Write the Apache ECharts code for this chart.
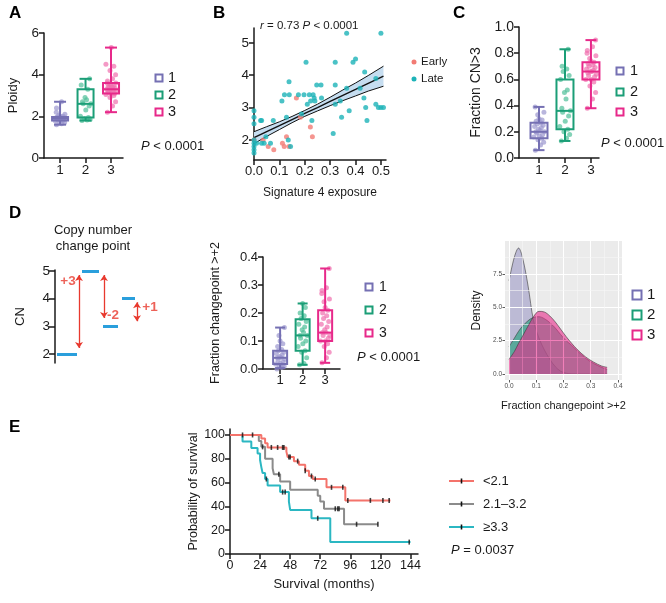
<!DOCTYPE html>
<html><head><meta charset="utf-8">
<script src="https://cdn.jsdelivr.net/npm/echarts@6/dist/echarts.min.js"></script>
<style>html,body{margin:0;padding:0;background:#fff}#c{width:666px;height:603px}</style>
</head><body><div id="c"></div>
<script>
// ---------------- DATA ----------------
const groups = [1, 2, 3];
const groupLabels = ['1', '2', '3'];
const jitter = [-0.14, 0.06, 0.18, -0.04, 0.11, -0.2, 0.01, 0.14, -0.09, 0.21, -0.12, 0.04, -0.02, 0.09, -0.17, 0.16, -0.07, 0.07, -0.11, 0.12, 0.0, -0.05, 0.19, -0.15];

// A: ploidy  [min, q1, median, q3, max]
const ploidyBox = [[1.6, 1.8, 1.9, 1.97, 2.7], [1.8, 1.95, 2.6, 3.3, 3.8], [2.2, 3.1, 3.3, 3.6, 5.3]];
const ploidyPts1 = [1.6, 1.65, 1.7, 1.75, 1.8, 1.8, 1.82, 1.85, 1.85, 1.87, 1.88, 1.9, 1.9, 1.9, 1.92, 1.93, 1.95, 1.95, 1.97, 2.0, 2.0, 2.05, 2.1, 2.2, 2.4, 2.7];
const ploidyPts2 = [1.8, 1.82, 1.85, 1.9, 1.95, 2.0, 2.3, 2.5, 2.6, 2.6, 2.7, 2.8, 2.9, 3.3, 3.5, 3.8];
const ploidyPts3 = [2.2, 2.5, 2.7, 2.9, 3.0, 3.05, 3.1, 3.1, 3.15, 3.2, 3.2, 3.25, 3.3, 3.3, 3.3, 3.35, 3.4, 3.4, 3.45, 3.5, 3.5, 3.55, 3.6, 3.6, 3.7, 3.8, 4.0, 4.2, 4.4, 4.5, 5.3];
const ploidyTicks = [0, 2, 4, 6];

// B: signature 4 exposure vs ploidy
const lateX = [0, 0, 0, 0, 0, 0, 0, 0, 0.01, 0.026, 0.03, 0.03, 0.04, 0.047, 0.065, 0.076, 0.11, 0.12, 0.128, 0.135, 0.138, 0.139, 0.144, 0.175, 0.187, 0.197, 0.205, 0.21, 0.218, 0.223, 0.228, 0.233, 0.237, 0.24, 0.247, 0.264, 0.266, 0.312, 0.32, 0.32, 0.32, 0.34, 0.345, 0.365, 0.365, 0.375, 0.39, 0.4, 0.418, 0.433, 0.436, 0.44, 0.445, 0.48, 0.48, 0.49, 0.5, 0.51, 0.5];
const lateY = [2.9, 2.7, 2.5, 2.0, 1.9, 1.8, 1.7, 1.6, 1.9, 2.6, 2.6, 1.9, 1.9, 2.1, 1.9, 2.6, 3.2, 3.4, 2.7, 2.0, 3.8, 3.4, 1.8, 3.4, 2.8, 3.4, 4.4, 3.1, 3.4, 3.2, 2.6, 3.4, 3.3, 3.2, 3.7, 3.7, 3.3, 2.2, 3.7, 4.4, 3.1, 3.2, 2.7, 5.3, 3.6, 2.9, 4.4, 4.5, 3.6, 3.3, 4.1, 3.0, 2.6, 3.9, 3.1, 3.0, 3.0, 3.0, 5.3];
const earlyX = [0, 0.036, 0.056, 0.078, 0.112, 0.119, 0.128, 0.138, 0.167, 0.183, 0.222, 0.23];
const earlyY = [2.0, 2.0, 1.8, 1.7, 1.9, 1.8, 2.1, 1.8, 3.3, 2.7, 2.4, 2.1];
const regX = [0, 0.05, 0.1, 0.15, 0.2, 0.25, 0.3, 0.35, 0.4, 0.45, 0.51];
const regFit = [2.07, 2.26, 2.44, 2.63, 2.82, 3.0, 3.19, 3.38, 3.56, 3.75, 3.97];
const regHi = [2.255, 2.41, 2.56, 2.727, 2.911, 3.104, 3.32, 3.545, 3.76, 3.99, 4.28];
const regLo = [1.885, 2.11, 2.32, 2.533, 2.729, 2.896, 3.06, 3.215, 3.36, 3.51, 3.66];
const sigXTicks = [0, 0.1, 0.2, 0.3, 0.4, 0.5];
const sigYTicks = [2, 3, 4, 5];

// C: fraction CN>3
const cnBox = [[0.06, 0.15, 0.20, 0.27, 0.39], [0.13, 0.22, 0.36, 0.60, 0.83], [0.38, 0.60, 0.66, 0.73, 0.90]];
const cnPts1 = [0.06, 0.1, 0.12, 0.14, 0.15, 0.16, 0.17, 0.18, 0.19, 0.2, 0.2, 0.21, 0.22, 0.23, 0.24, 0.25, 0.26, 0.27, 0.28, 0.29, 0.3, 0.33, 0.35, 0.39];
const cnPts2 = [0.13, 0.15, 0.18, 0.2, 0.22, 0.24, 0.28, 0.32, 0.35, 0.36, 0.38, 0.45, 0.5, 0.52, 0.6, 0.63, 0.66, 0.68, 0.7, 0.83];
const cnPts3 = [0.38, 0.45, 0.5, 0.55, 0.58, 0.6, 0.6, 0.62, 0.63, 0.64, 0.65, 0.66, 0.66, 0.67, 0.68, 0.69, 0.7, 0.71, 0.72, 0.73, 0.74, 0.76, 0.78, 0.8, 0.82, 0.85, 0.9];
const cnTicks = [0, 0.2, 0.4, 0.6, 0.8, 1.0];

// D left: copy number change point schematic
const segStart = [2, 27, 48, 67];
const segEnd = [22, 44, 63, 80];
const segCN = [2, 5, 3, 4];
const arrowX = [24, 49, 82];
const arrowFrom = [2.22, 4.85, 3.18];
const arrowTo = [4.85, 3.3, 3.87];
const arrowLabelX = [13, 58, 95];
const arrowLabelY = [4.64, 3.4, 3.7];
const arrowLabels = ['+3', '-2', '+1'];
const cnAxisTicks = [2, 3, 4, 5];

// D middle: fraction changepoint >+2
const cpBox = [[0.003, 0.018, 0.04, 0.065, 0.148], [0.015, 0.065, 0.12, 0.178, 0.234], [0.022, 0.10, 0.13, 0.21, 0.359]];
const cpPts1 = [0.0, 0.005, 0.01, 0.012, 0.015, 0.018, 0.02, 0.025, 0.03, 0.035, 0.04, 0.04, 0.045, 0.05, 0.055, 0.06, 0.065, 0.07, 0.08, 0.09, 0.1, 0.12, 0.148];
const cpPts2 = [0.015, 0.02, 0.04, 0.06, 0.065, 0.08, 0.09, 0.1, 0.11, 0.12, 0.12, 0.13, 0.14, 0.15, 0.16, 0.17, 0.18, 0.19, 0.2, 0.22, 0.234];
const cpPts3 = [0.022, 0.04, 0.06, 0.08, 0.09, 0.1, 0.1, 0.11, 0.12, 0.12, 0.13, 0.13, 0.14, 0.15, 0.16, 0.17, 0.18, 0.19, 0.2, 0.21, 0.22, 0.24, 0.25, 0.27, 0.28, 0.29, 0.359];
const cpTicks = [0, 0.1, 0.2, 0.3, 0.4];

// D right: density
const densX = [0, 0.02, 0.035, 0.05, 0.07, 0.09, 0.11, 0.13, 0.15, 0.17, 0.19, 0.21, 0.23, 0.25, 0.28, 0.31, 0.34, 0.36];
const dens1 = [7.0, 8.8, 9.45, 8.7, 6.6, 4.0, 2.7, 1.8, 1.1, 0.55, 0.2, 0.06, 0.01, 0, 0, 0, 0, 0];
const dens2 = [2.05, 2.7, 3.2, 3.6, 4.0, 4.25, 4.3, 4.15, 3.85, 3.45, 2.95, 2.5, 2.15, 1.75, 1.2, 0.8, 0.5, 0.35];
const dens3 = [1.1, 1.7, 2.3, 2.85, 3.6, 4.3, 4.7, 4.65, 4.35, 3.9, 3.35, 2.8, 2.3, 1.85, 1.3, 0.9, 0.6, 0.5];
const densXTicks = [0, 0.1, 0.2, 0.3, 0.4];
const densYTicks = [0, 2.5, 5.0, 7.5];
const densXMinor = [0.05, 0.15, 0.25, 0.35];
const densYMinor = [1.25, 3.75, 6.25, 8.75];

// E: Kaplan-Meier
const kmNames = ['<2.1', '2.1\u20133.2', '\u22653.3'];
const kmLowT = [0, 25, 28, 30, 45, 46, 51, 55, 60, 63, 66, 77, 92, 128];
const kmLowS = [100, 97, 93, 89.5, 86, 81.5, 78, 75, 70, 65.5, 63, 56, 45, 45];
const kmLowCensT = [10, 18, 33, 38, 42, 43, 47, 48, 54, 60, 65, 68, 81, 90, 94, 112, 122, 127];
const kmLowCensS = [100, 100, 89.5, 89.5, 89.5, 89.5, 81.5, 81.5, 78, 70, 65.5, 63, 56, 56, 45, 45, 45, 45];
const kmMidT = [0, 23, 25, 28, 34, 35, 40, 48, 70, 72, 75, 91, 118];
const kmMidS = [100, 95, 90, 80, 72, 67, 61, 54, 49, 44, 38, 25, 25];
const kmMidCensT = [26, 39, 84, 86, 87, 101, 118];
const kmMidCensS = [90, 67, 38, 38, 38, 25, 25];
const kmHighT = [0, 10, 17, 22, 24, 25, 26, 28, 30, 40, 47, 48, 65, 80, 144];
const kmHighS = [100, 94.5, 89, 84.5, 79, 73, 68, 63, 57.5, 52, 44, 37, 30, 10, 10];
const kmHighCensT = [29, 42, 44, 70, 143];
const kmHighCensS = [63, 52, 52, 30, 10];
const kmXTicks = [0, 24, 48, 72, 96, 120, 144];
const kmYTicks = [0, 20, 40, 60, 80, 100];

// ---------------- STYLE ----------------
const FONT = '"Liberation Sans", Arial, Helvetica, sans-serif';
const INK = '#1a1a1a';
const boxColors = ['#7570b3', '#1b9e77', '#e7298a'];
const ptColors = ['#9b97cf', '#4fbf98', '#ef6fae'];
const densAlpha = [0.4, 0.6, 0.6];
const kmColors = ['#f4736b', '#8b8b8b', '#2bb7c2'];

function gpAxis(o) {
  return {
    type: 'value', gridIndex: o.grid, min: o.min, max: o.max, position: o.position,
    show: o.show !== false,
    axisLine: { show: o.line !== false, onZero: false, lineStyle: { color: o.lineColor || INK, width: 1.5 } },
    axisTick: { show: !!o.ticks, length: o.tickLen || 5, customValues: o.ticks, lineStyle: { color: o.tickColor || INK, width: o.tickW || 1.5 } },
    axisLabel: { show: !!o.ticks, customValues: o.ticks, formatter: o.fmt || (v => String(v)), fontSize: o.fs || 13, color: o.labelColor || INK, fontFamily: FONT, margin: o.margin || 5 },
    splitLine: { show: false },
    name: o.name || '', nameLocation: 'middle', nameGap: o.gap || 25,
    nameTextStyle: { fontSize: o.nfs || 13, color: INK, fontFamily: FONT }
  };
}
const f1 = v => Number(v).toFixed(1);

function jittered(vals, g) { return vals.map((v, i) => [g + jitter[i % jitter.length], v]); }

function ptSeries(ax, lists) {
  return lists.map((vals, gi) => ({
    type: 'scatter', xAxisIndex: ax, yAxisIndex: ax, z: 2, symbolSize: 5,
    itemStyle: { color: ptColors[gi], opacity: 0.7 }, data: jittered(vals, groups[gi]), silent: true
  }));
}
function boxSeries(ax, stats, halfW, capHalf) {
  return {
    type: 'custom', xAxisIndex: ax, yAxisIndex: ax, z: 5, silent: true,
    data: stats.map((s, i) => [groups[i]].concat(s)),
    encode: { x: 0, y: [1, 2, 3, 4, 5] },
    renderItem: (params, api) => {
      const g = api.value(0);
      const c = boxColors[params.dataIndex];
      const p = [1, 2, 3, 4, 5].map(k => api.coord([g, api.value(k)]));
      const cx = p[0][0];
      const st = { stroke: c, lineWidth: 2, fill: 'none' };
      return { type: 'group', children: [
        { type: 'line', shape: { x1: cx, y1: p[4][1], x2: cx, y2: p[3][1] }, style: st },
        { type: 'line', shape: { x1: cx, y1: p[1][1], x2: cx, y2: p[0][1] }, style: st },
        { type: 'line', shape: { x1: cx - capHalf, y1: p[4][1], x2: cx + capHalf, y2: p[4][1] }, style: st },
        { type: 'line', shape: { x1: cx - capHalf, y1: p[0][1], x2: cx + capHalf, y2: p[0][1] }, style: st },
        { type: 'rect', shape: { x: cx - halfW, y: p[3][1], width: 2 * halfW, height: p[1][1] - p[3][1] }, style: st },
        { type: 'line', shape: { x1: cx - halfW, y1: p[2][1], x2: cx + halfW, y2: p[2][1] }, style: st }
      ] };
    }
  };
}

function txt(x, y, text, o) {
  o = o || {};
  const style = { text: text, fontSize: o.fs || 13, fontFamily: FONT, fill: o.color || INK, fontWeight: o.bold ? 'bold' : 'normal', textAlign: o.align || 'left', textVerticalAlign: 'middle' };
  if (o.rich) style.rich = o.rich;
  return { type: 'text', x: x, y: y, silent: true, style: style };
}
function sq(cx, cy, size, color, lw) {
  return { type: 'rect', silent: true, shape: { x: cx - size / 2, y: cy - size / 2, width: size, height: size }, style: { fill: 'none', stroke: color, lineWidth: lw || 2 } };
}
const italicP = { i: { fontStyle: 'italic', fontSize: 13, fontFamily: FONT, fill: INK }, n: { fontSize: 13, fontFamily: FONT, fill: INK } };

// ---------------- OPTION ----------------
const gridBase = { containLabel: false, outerBoundsMode: 'none' };
const option = {
  animation: false,
  backgroundColor: '#ffffff',
  grid: [
    Object.assign({ left: 44, top: 33, width: 79, height: 125 }, gridBase),
    Object.assign({ left: 254, top: 28, width: 132, height: 132 }, gridBase),
    Object.assign({ left: 519, top: 27, width: 80, height: 131 }, gridBase),
    Object.assign({ left: 55, top: 270, width: 100, height: 93 }, gridBase),
    Object.assign({ left: 263, top: 257, width: 77, height: 112 }, gridBase),
    Object.assign({ left: 505, top: 241, width: 117, height: 139, show: true, backgroundColor: '#ebebeb', borderWidth: 0 }, gridBase),
    Object.assign({ left: 230, top: 429, width: 188, height: 125 }, gridBase)
  ],
  xAxis: [
    gpAxis({ grid: 0, min: 0.37, max: 3.47, ticks: groups, fmt: v => groupLabels[Math.round(v) - 1], fs: 13.5, position: 'bottom' }),
    gpAxis({ grid: 1, min: 0, max: 0.52, ticks: sigXTicks, fmt: f1, fs: 13, position: 'bottom', name: 'Signature 4 exposure', nfs: 12, gap: 27 }),
    gpAxis({ grid: 2, min: 0.23, max: 3.31, ticks: groups, fmt: v => groupLabels[Math.round(v) - 1], fs: 13.5, position: 'bottom' }),
    gpAxis({ grid: 3, min: 0, max: 100, show: false }),
    gpAxis({ grid: 4, min: 0.24, max: 3.66, ticks: groups, fmt: v => groupLabels[Math.round(v) - 1], fs: 13, position: 'bottom' }),
    gpAxis({ grid: 5, min: -0.0147, max: 0.4147, ticks: densXTicks, fmt: f1, fs: 6.5, position: 'bottom', line: false, tickLen: 2.5, tickW: 0.8, tickColor: '#333', labelColor: '#4d4d4d', margin: 3, name: 'Fraction changepoint >+2', nfs: 11, gap: 20 }),
    gpAxis({ grid: 6, min: 0, max: 150, ticks: kmXTicks, fs: 12.5, position: 'bottom', name: 'Survival (months)', nfs: 13, gap: 24 })
  ],
  yAxis: [
    gpAxis({ grid: 0, min: 0, max: 6, ticks: ploidyTicks, fs: 13.5, name: 'Ploidy', nfs: 13, gap: 24 }),
    gpAxis({ grid: 1, min: 1.38, max: 5.46, ticks: sigYTicks, fs: 13.5 }),
    gpAxis({ grid: 2, min: 0, max: 1, ticks: cnTicks, fmt: f1, fs: 14, name: 'Fraction CN>3', nfs: 14, gap: 36 }),
    gpAxis({ grid: 3, min: 1.68, max: 5.03, ticks: cnAxisTicks, fs: 13.5, name: 'CN', nfs: 13, gap: 28, tickLen: 6 }),
    gpAxis({ grid: 4, min: 0, max: 0.4, ticks: cpTicks, fmt: f1, fs: 13, name: 'Fraction changepoint >+2', nfs: 12.5, gap: 41 }),
    gpAxis({ grid: 5, min: -0.45, max: 9.98, ticks: densYTicks, fmt: f1, fs: 6.5, line: false, tickLen: 2.5, tickW: 0.8, tickColor: '#333', labelColor: '#4d4d4d', margin: 3, name: 'Density', nfs: 12, gap: 22 }),
    gpAxis({ grid: 6, min: 0, max: 105, ticks: kmYTicks, fs: 12.5, name: 'Probability of survival', nfs: 12.5, gap: 30 })
  ],
  series: [],
  graphic: { elements: [] }
};

const S = option.series;
// A
ptSeries(0, [ploidyPts1, ploidyPts2, ploidyPts3]).forEach(s => S.push(s));
S.push(boxSeries(0, ploidyBox, 8, 6));
// C
ptSeries(2, [cnPts1, cnPts2, cnPts3]).forEach(s => S.push(s));
S.push(boxSeries(2, cnBox, 8.5, 5.5));
// D middle
ptSeries(4, [cpPts1, cpPts2, cpPts3]).forEach(s => S.push(s));
S.push(boxSeries(4, cpBox, 7, 5));

// B
S.push({
  type: 'custom', xAxisIndex: 1, yAxisIndex: 1, z: 1, silent: true, data: [[regX[0], regFit[0]]],
  renderItem: (params, api) => {
    const pts = [];
    for (let i = 0; i < regX.length; i++) pts.push(api.coord([regX[i], regHi[i]]));
    for (let i = regX.length - 1; i >= 0; i--) pts.push(api.coord([regX[i], regLo[i]]));
    return { type: 'polygon', shape: { points: pts }, style: { fill: '#c6ddf0' } };
  }
});
[[regHi, 1], [regLo, 1], [regFit, 1.4]].forEach(([ys, w]) => S.push({
  type: 'line', xAxisIndex: 1, yAxisIndex: 1, z: 2, silent: true, showSymbol: false, symbol: 'none',
  lineStyle: { color: '#111', width: w }, data: regX.map((x, i) => [x, ys[i]])
}));
S.push({ type: 'scatter', xAxisIndex: 1, yAxisIndex: 1, z: 3, symbolSize: 5, itemStyle: { color: '#f27b74' }, data: earlyX.map((x, i) => [x, earlyY[i]]) });
S.push({ type: 'scatter', xAxisIndex: 1, yAxisIndex: 1, z: 3, symbolSize: 5, itemStyle: { color: '#1db3b8' }, data: lateX.map((x, i) => [x, lateY[i]]) });

// D left
S.push({
  type: 'lines', coordinateSystem: 'cartesian2d', xAxisIndex: 3, yAxisIndex: 3, z: 3, silent: true,
  symbol: ['none', 'none'], lineStyle: { color: '#2a9fdc', width: 3, opacity: 1, curveness: 0 },
  data: segStart.map((x0, i) => ({ coords: [[x0, segCN[i]], [segEnd[i], segCN[i]]] }))
});
S.push({
  type: 'lines', coordinateSystem: 'cartesian2d', xAxisIndex: 3, yAxisIndex: 3, z: 3, silent: true,
  symbol: ['arrow', 'arrow'], symbolSize: 6, lineStyle: { color: '#e8392e', width: 1.3, opacity: 1, curveness: 0 },
  data: arrowX.map((x, i) => ({ coords: [[x, arrowFrom[i]], [x, arrowTo[i]]] }))
});
S.push({
  type: 'scatter', xAxisIndex: 3, yAxisIndex: 3, z: 4, symbolSize: 1, itemStyle: { color: 'rgba(0,0,0,0)' }, silent: true,
  label: { show: true, position: 'inside', formatter: p => p.value[2], color: '#e8392e', fontWeight: 'bold', fontSize: 13.5, fontFamily: FONT },
  data: arrowLabelX.map((x, i) => [x, arrowLabelY[i], arrowLabels[i]])
});

// Density
S.push({
  type: 'line', xAxisIndex: 5, yAxisIndex: 5, z: 1, data: [], silent: true,
  markLine: { silent: true, symbol: 'none', label: { show: false }, animation: false,
    lineStyle: { color: '#ffffff', width: 1.1, type: 'solid' },
    data: densXTicks.map(v => ({ xAxis: v })).concat(densYTicks.map(v => ({ yAxis: v }))) }
});
S.push({
  type: 'line', xAxisIndex: 5, yAxisIndex: 5, z: 1, data: [], silent: true,
  markLine: { silent: true, symbol: 'none', label: { show: false }, animation: false,
    lineStyle: { color: '#f7f7f7', width: 0.6, type: 'solid' },
    data: densXMinor.map(v => ({ xAxis: v })).concat(densYMinor.map(v => ({ yAxis: v }))) }
});
[dens1, dens2, dens3].forEach((d, gi) => S.push({
  type: 'line', xAxisIndex: 5, yAxisIndex: 5, z: 3 + gi, silent: true, showSymbol: false, symbol: 'none', smooth: 0.35,
  lineStyle: { color: '#3a3a3a', width: 0.6 }, areaStyle: { color: boxColors[gi], opacity: densAlpha[gi], origin: 0 },
  data: densX.map((x, i) => [x, d[i]])
}));

// E
[[kmHighT, kmHighS, 2], [kmMidT, kmMidS, 1], [kmLowT, kmLowS, 0]].forEach(([t, s, ci]) => S.push({
  type: 'line', xAxisIndex: 6, yAxisIndex: 6, z: 3, silent: true, step: 'end', showSymbol: false, symbol: 'none',
  lineStyle: { color: kmColors[ci], width: 2 }, data: t.map((x, i) => [x, s[i]])
}));
[[kmHighCensT, kmHighCensS], [kmMidCensT, kmMidCensS], [kmLowCensT, kmLowCensS]].forEach(([t, s]) => S.push({
  type: 'scatter', xAxisIndex: 6, yAxisIndex: 6, z: 6, silent: true, symbol: 'rect', symbolSize: [1.6, 5],
  itemStyle: { color: '#111' }, data: t.map((x, i) => [x, s[i]])
}));

// ---------------- GRAPHIC (labels, legends, annotations) ----------------
const G = option.graphic.elements;
[['A', 9, 13], ['B', 213, 13], ['C', 453, 13], ['D', 9, 213], ['E', 9, 427]].forEach(([t, x, y]) => G.push(txt(x, y, t, { fs: 17, bold: true, color: '#000' })));
function boxLegend(x, ys, textX, size, fs) {
  ys.forEach((y, i) => { G.push(sq(x, y, size, boxColors[i], 2)); G.push(txt(textX, y, groupLabels[i], { fs: fs })); });
}
boxLegend(159, [78, 95, 112], 168, 7, 14.5);
boxLegend(620, [71, 92, 112], 630, 7, 14.5);
boxLegend(369, [287, 310, 333], 379, 7, 14);
boxLegend(637, [295, 315, 335], 647, 9, 15);
G.push(txt(141, 146, '{i|P}{n| < 0.0001}', { rich: italicP }));
G.push(txt(601, 143, '{i|P}{n| < 0.0001}', { rich: italicP }));
G.push(txt(357, 357, '{i|P}{n| < 0.0001}', { rich: italicP }));
G.push(txt(451, 550, '{i|P}{n| = 0.0037}', { rich: italicP }));
G.push(txt(260, 26, '{i|r}{n| = 0.73 }{i|P}{n| < 0.0001}', { rich: { i: { fontStyle: 'italic', fontSize: 11.5, fontFamily: FONT, fill: INK }, n: { fontSize: 11.5, fontFamily: FONT, fill: INK } } }));
G.push({ type: 'circle', silent: true, shape: { cx: 414, cy: 62, r: 2.5 }, style: { fill: '#f27b74' } });
G.push({ type: 'circle', silent: true, shape: { cx: 414, cy: 79, r: 2.5 }, style: { fill: '#1db3b8' } });
G.push(txt(421, 62, 'Early', { fs: 11.5 }));
G.push(txt(421, 79, 'Late', { fs: 11.5 }));
G.push(txt(93, 230, 'Copy number', { fs: 13, align: 'center' }));
G.push(txt(93, 246, 'change point', { fs: 13, align: 'center' }));
[481, 504, 527].forEach((y, i) => {
  G.push({ type: 'line', silent: true, shape: { x1: 449, y1: y, x2: 474, y2: y }, style: { stroke: kmColors[i], lineWidth: 2 } });
  G.push({ type: 'rect', silent: true, shape: { x: 460.7, y: y - 2.5, width: 1.6, height: 5 }, style: { fill: '#111' } });
  G.push(txt(483, y, kmNames[i], { fs: 13 }));
});

const chart = echarts.init(document.getElementById('c'), null, { renderer: 'canvas', width: 666, height: 603 });
chart.setOption(option);
</script>
</body></html>
